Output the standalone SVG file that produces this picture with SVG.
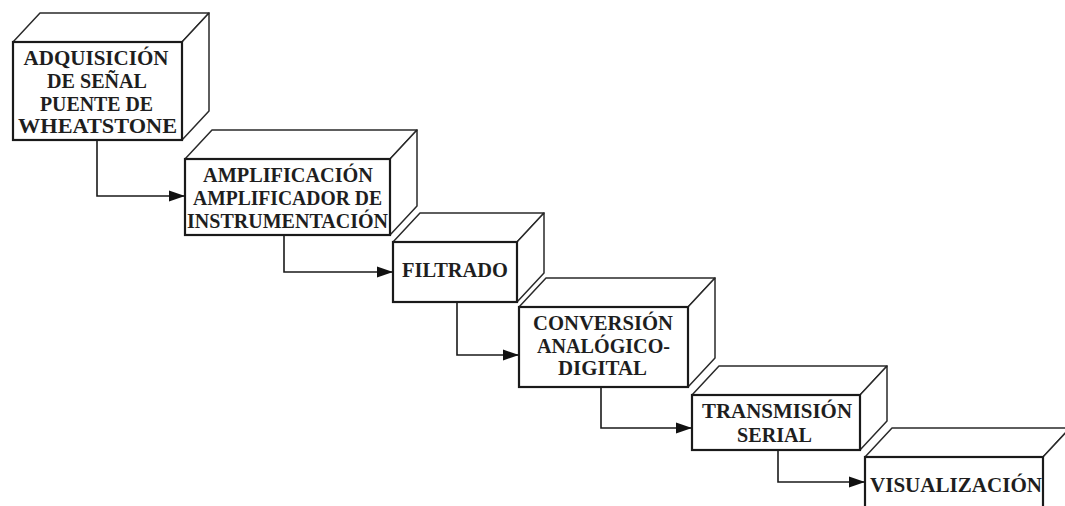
<svg xmlns="http://www.w3.org/2000/svg" width="1065" height="506" viewBox="0 0 1065 506">
<style>
.front{fill:#fff;stroke:#1a1a1a;stroke-width:2.2}
.face{fill:#fff;stroke:#2a2a2a;stroke-width:1.5;stroke-linejoin:round}
.lbl{font-family:"Liberation Serif","Times New Roman",serif;font-weight:bold;font-size:20px;fill:#1e1e1e;text-anchor:middle}
.conn{fill:none;stroke:#1a1a1a;stroke-width:1.6}
</style>
<defs>
<marker id="arr" markerUnits="userSpaceOnUse" markerWidth="16" markerHeight="12" refX="16" refY="6" orient="auto">
<path d="M0,0.5 L16,6 L0,11.5 Z" fill="#111"/>
</marker>
</defs>
<rect width="1065" height="506" fill="#fff"/>

<g id="box1">
<polygon class="face" points="13,42 40,13 209,13 182,42"/>
<polygon class="face" points="182,42 209,13 209,111 182,140"/>
<rect class="front" x="13" y="42" width="169" height="98"/>
<text class="lbl" x="96" y="65" textLength="145" lengthAdjust="spacingAndGlyphs">ADQUISICIÓN</text>
<text class="lbl" x="97" y="88" textLength="100" lengthAdjust="spacingAndGlyphs">DE SEÑAL</text>
<text class="lbl" x="96.5" y="111" textLength="113" lengthAdjust="spacingAndGlyphs">PUENTE DE</text>
<text class="lbl" x="97.5" y="133" textLength="159" lengthAdjust="spacingAndGlyphs">WHEATSTONE</text>
</g>

<g id="box2">
<polygon class="face" points="185,159 212,130 417,130 390,159"/>
<polygon class="face" points="390,159 417,130 417,206 390,235"/>
<rect class="front" x="185" y="159" width="205" height="76"/>
<text class="lbl" x="288" y="182" textLength="170" lengthAdjust="spacingAndGlyphs">AMPLIFICACIÓN</text>
<text class="lbl" x="287.5" y="205" textLength="189" lengthAdjust="spacingAndGlyphs">AMPLIFICADOR DE</text>
<text class="lbl" x="287.5" y="228" textLength="201" lengthAdjust="spacingAndGlyphs">INSTRUMENTACIÓN</text>
</g>

<g id="box3">
<polygon class="face" points="393,242 420,213 544,213 517,242"/>
<polygon class="face" points="517,242 544,213 544,273 517,302"/>
<rect class="front" x="393" y="242" width="124" height="60"/>
<text class="lbl" x="455" y="277" textLength="106" lengthAdjust="spacingAndGlyphs">FILTRADO</text>
</g>

<g id="box4">
<polygon class="face" points="519,307 546,278 715,278 688,307"/>
<polygon class="face" points="688,307 715,278 715,358 688,387"/>
<rect class="front" x="519" y="307" width="169" height="80"/>
<text class="lbl" x="603" y="330" textLength="140" lengthAdjust="spacingAndGlyphs">CONVERSIÓN</text>
<text class="lbl" x="603.5" y="353" textLength="133" lengthAdjust="spacingAndGlyphs">ANALÓGICO-</text>
<text class="lbl" x="602.5" y="375" textLength="89" lengthAdjust="spacingAndGlyphs">DIGITAL</text>
</g>

<g id="box5">
<polygon class="face" points="692,395 719,366 887,366 860,395"/>
<polygon class="face" points="860,395 887,366 887,421 860,450"/>
<rect class="front" x="692" y="395" width="168" height="55"/>
<text class="lbl" x="777" y="418" textLength="150" lengthAdjust="spacingAndGlyphs">TRANSMISIÓN</text>
<text class="lbl" x="774.5" y="442" textLength="75" lengthAdjust="spacingAndGlyphs">SERIAL</text>
</g>

<g id="box6">
<polygon class="face" points="865,457 892,428 1070,428 1043,457"/>
<polygon class="face" points="1043,457 1070,428 1070,511 1043,540"/>
<rect class="front" x="865" y="457" width="178" height="83"/>
<text class="lbl" x="956" y="492" textLength="172" lengthAdjust="spacingAndGlyphs">VISUALIZACIÓN</text>
</g>

<g id="connectors">
<path class="conn" d="M97,141 V196 H185" marker-end="url(#arr)"/>
<path class="conn" d="M284,236 V272 H393" marker-end="url(#arr)"/>
<path class="conn" d="M457,303 V355 H519" marker-end="url(#arr)"/>
<path class="conn" d="M601,388 V428 H692" marker-end="url(#arr)"/>
<path class="conn" d="M778,451 V482 H865" marker-end="url(#arr)"/>
</g>
</svg>
